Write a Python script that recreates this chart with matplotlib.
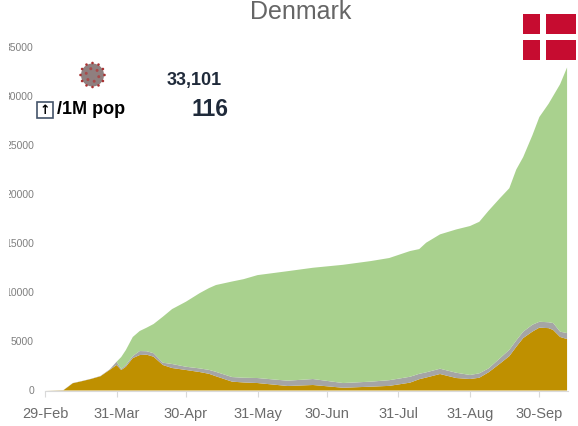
import numpy as np
import matplotlib
matplotlib.use('Agg')
import matplotlib.pyplot as plt
from matplotlib.patches import Circle, Rectangle

# days since 29 Feb 2020
days = [0, 8, 10, 12, 16, 20, 24, 28, 31, 33, 35, 38, 41, 44, 47, 51, 55, 61, 67, 71, 74, 81, 86, 92,
        105, 116, 129, 141, 149, 158, 162, 165, 171, 178, 184, 188, 192, 197, 201, 204, 207,
        211, 214, 218, 220, 223, 226]
total = [0, 50, 400, 760, 970, 1200, 1480, 2150, 2930, 3410, 4120, 5450, 6060, 6400, 6770, 7510,
         8290, 9040, 9920, 10430, 10740, 11100, 11340, 11750, 12150, 12500, 12800, 13180, 13490, 14200, 14400,
         15050, 15900, 16400, 16750, 17180, 18300, 19600, 20600, 22500, 23770, 26000, 27850,
         29200, 30000, 31200, 32900]
grey_top = [0, 50, 400, 760, 970, 1200, 1480, 2150, 2930, 2190, 2600, 3510, 4020, 4000, 3800, 2830,
            2700, 2420, 2250, 2100, 1900, 1370, 1300, 1270, 1000, 1170, 760, 900, 1050, 1400, 1700, 1850,
            2220, 1810, 1580, 1750, 2250, 3300, 4150, 5100, 5990, 6700, 7000, 6950, 6870,
            5990, 5850]
active = [0, 30, 380, 740, 950, 1180, 1450, 2100, 2600, 2090, 2420, 3300, 3610, 3650, 3440, 2600,
          2290, 2090, 1880, 1700, 1450, 900, 820, 760, 460, 560, 280, 390, 470, 800, 1150, 1320, 1680,
          1270, 1170, 1300, 1850, 2750, 3500, 4450, 5340, 6000, 6400, 6350, 6160, 5450, 5240]

tick_days = [0, 31, 61, 92, 122, 153, 184, 214]
tick_labels = ['29-Feb', '31-Mar', '30-Apr', '31-May', '30-Jun', '31-Jul', '31-Aug', '30-Sep']
y_ticks = [0, 5000, 10000, 15000, 20000, 25000, 30000, 35000]

plt.rcParams['font.family'] = ['Liberation Sans', 'DejaVu Sans']

W, H = 578, 426
fig = plt.figure(figsize=(W / 100, H / 100), dpi=100)
ax = fig.add_axes([45 / W, (H - 390.5) / H, 523 / W, 343.7 / H])

deaths = np.array(grey_top) - np.array(active)
recovered = np.array(total) - np.array(grey_top)
ax.stackplot(days, active, deaths, recovered, colors=['#bf9000', '#a5a5a5', '#a9d18e'], linewidth=0)

ax.set_xlim(0, 226.4)
ax.set_ylim(0, 35000)
ax.set_xticks(tick_days)
ax.set_xticklabels(tick_labels, fontsize=10.5, color='#6b6b6b')
ax.set_yticks(y_ticks)
ax.set_yticklabels([str(v) for v in y_ticks], fontsize=7.5, color='#7f7f7f')
ax.tick_params(axis='x', length=4, color='#d9d9d9', pad=8)
ax.tick_params(axis='y', length=0, pad=8)
for s in ['top', 'left', 'right']:
    ax.spines[s].set_visible(False)
ax.spines['bottom'].set_color('#d9d9d9')

# overlay in pixel coordinates for title, icons and counters
ov = fig.add_axes([0, 0, 1, 1])
ov.set_xlim(0, W)
ov.set_ylim(H, 0)
ov.axis('off')
ov.patch.set_alpha(0)

# the first digit of the y labels is cut off in the original
ov.add_patch(Rectangle((0, 30), 8.5, 280, color='white', lw=0, zorder=3))

ov.text(301, 12, 'Denmark', ha='center', va='center', fontsize=18, color='#666666')

# flag
for x0, x1 in [(522.7, 540), (545.7, 576)]:
    for y0, y1 in [(14, 34), (40, 60)]:
        ov.add_patch(Rectangle((x0, y0), x1 - x0, y1 - y0, color='#c60c30', lw=0))

# virus icon
ov.add_patch(Circle((92.5, 75), 11.5, color='#8f7f7f', lw=0))
for a in np.arange(0, 360, 30):
    r = np.deg2rad(a)
    ov.add_patch(Circle((92.5 + 12 * np.cos(r), 75 + 12 * np.sin(r)), 1.3, color='#a83232', lw=0))
for a in np.arange(15, 360, 60):
    r = np.deg2rad(a)
    ov.add_patch(Circle((92.5 + 6.5 * np.cos(r), 75 + 6.5 * np.sin(r)), 1.5, color='#a84a4a', lw=0))

ov.text(194, 80, '33,101', ha='center', va='center', fontsize=13, fontweight='bold', color='#1f2a3a')
ov.text(210, 109, '116', ha='center', va='center', fontsize=16.5, fontweight='bold', color='#1f2a3a')
ov.add_patch(Rectangle((36.5, 102), 16, 16, fill=False, ec='#44546a', lw=1.2))
ov.text(44.5, 110, '↑', ha='center', va='center', fontsize=9, fontweight='bold', color='black',
        family='DejaVu Sans')
ov.text(57, 110, '/1M pop', ha='left', va='center', fontsize=13, fontweight='bold', color='black')

fig.savefig('out.png', dpi=100)
